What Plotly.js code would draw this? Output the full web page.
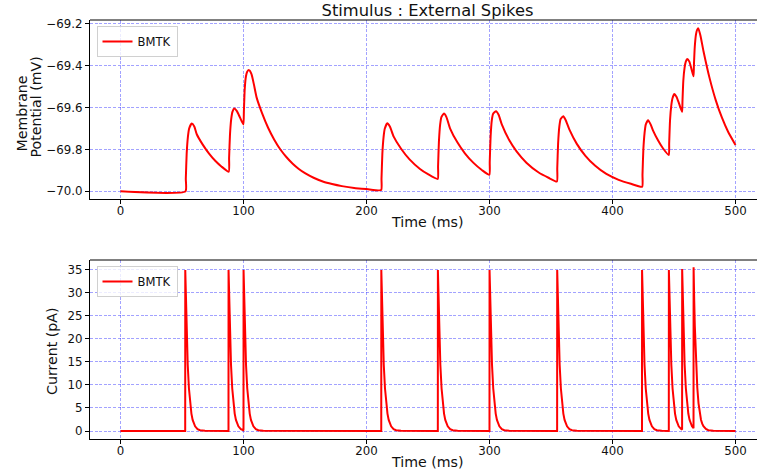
<!DOCTYPE html>
<html>
<head>
<meta charset="utf-8">
<script src="https://cdn.plot.ly/plotly-3.0.1.min.js"></script>
<style>
  html, body { margin: 0; padding: 0; background: #fff; }
  #chart { width: 757px; height: 473px; }
</style>
</head>
<body>
<div id="chart"></div>
<script>
// ---- Data ----
// Membrane potential trace (time in ms, potential in mV)
const voltT = [0, 52.8, 53.1, 53.8, 54.8, 55.8, 57.9, 60, 62, 67, 72, 77, 82, 88,
  88.3, 89, 90, 91, 92.5, 94.5, 97, 99.9,
  100.3, 101, 102, 103, 104.5, 106.5, 108.5, 110.7, 115, 120, 125, 130, 135, 140, 145, 150, 157, 165, 172, 180, 190, 200, 211.9,
  212.2, 212.9, 213.9, 214.9, 216.9, 219, 222, 228, 235, 243.5, 250, 257.9,
  258.2, 258.9, 259.9, 260.9, 263, 265, 268, 274, 280, 287, 294, 299.9,
  300.2, 300.9, 301.9, 302.9, 305.3, 307.5, 310, 316, 322, 330, 340, 348, 354.8,
  355.1, 355.8, 356.8, 357.8, 360, 362, 365, 371, 378, 386, 395, 405, 415, 424.1,
  424.4, 425.1, 426.1, 427.1, 429, 431, 433, 437, 441, 445.8,
  446.1, 446.8, 447.8, 448.8, 450.3, 452, 454, 456.6,
  456.9, 457.6, 458.6, 459.6, 460.8, 462.5, 464, 465.9,
  466.2, 466.9, 467.9, 468.8, 469.8, 471.5, 474, 479, 484, 489, 494, 500];
const voltV = [-70.0, -70.0, -69.94, -69.82, -69.74, -69.70, -69.676, -69.69, -69.727, -69.778, -69.82, -69.854, -69.881, -69.906,
  -69.84, -69.73, -69.655, -69.62, -69.604, -69.615, -69.645, -69.68,
  -69.62, -69.51, -69.45, -69.428, -69.42, -69.44, -69.49, -69.552, -69.625, -69.696, -69.753, -69.80, -69.837, -69.868, -69.893, -69.913, -69.935, -69.954, -69.965, -69.975, -69.984, -69.989, -69.994,
  -69.94, -69.82, -69.74, -69.70, -69.675, -69.69, -69.737, -69.795, -69.847, -69.893, -69.918, -69.941,
  -69.88, -69.76, -69.68, -69.645, -69.628, -69.645, -69.70, -69.767, -69.818, -69.864, -69.899, -69.921,
  -69.86, -69.74, -69.66, -69.63, -69.617, -69.635, -69.68, -69.755, -69.809, -69.863, -69.91, -69.935, -69.953,
  -69.89, -69.77, -69.69, -69.655, -69.641, -69.66, -69.705, -69.773, -69.83, -69.878, -69.917, -69.945, -69.964, -69.978,
  -69.92, -69.80, -69.72, -69.68, -69.66, -69.68, -69.71, -69.756, -69.794, -69.826,
  -69.77, -69.66, -69.59, -69.555, -69.535, -69.548, -69.578, -69.62,
  -69.57, -69.47, -69.41, -69.38, -69.368, -69.38, -69.41, -69.45,
  -69.40, -69.31, -69.25, -69.228, -69.221, -69.255, -69.33, -69.46, -69.565, -69.648, -69.715, -69.778];

// Input current: spike onset times (ms), peak current (pA), current at onset (pA)
const spikeTimes = [52.6, 87.8, 100.0, 212.0, 258.0, 300.0, 355.0, 424.0, 445.8, 456.6, 465.9];
const spikePeaks = [35, 35, 35, 35, 35, 35, 35, 35, 35, 35.2, 35.6];
const onsetCurrent = [0, 0, 0.3, 0, 0, 0, 0, 0, 0, 0.3, 0.6];
// Shape of one current pulse decay (ms after onset, fraction of peak)
const decayOffset = [0, 0.5, 1, 1.5, 2, 3, 4, 5, 6, 7, 8, 10, 12, 16];
const decayFraction = [1, 0.80, 0.64, 0.513, 0.411, 0.264, 0.169, 0.108, 0.069, 0.045, 0.029, 0.012, 0.005, 0.001];
const simEnd = 500;

const xTicks = [0, 100, 200, 300, 400, 500];
const vTicks = [-70.0, -69.8, -69.6, -69.4, -69.2];
const iTicks = [0, 5, 10, 15, 20, 25, 30, 35];

// ---- Build the current trace table from the read values ----
const currT = [0], currI = [0];
for (let i = 0; i < spikeTimes.length; i++) {
  const t0 = spikeTimes[i];
  const next = i + 1 < spikeTimes.length ? spikeTimes[i + 1] : simEnd;
  currT.push(t0); currI.push(onsetCurrent[i]);
  for (let k = 0; k < decayOffset.length; k++) {
    const t = t0 + 0.05 + decayOffset[k];
    if (t >= next) break;
    currT.push(t); currI.push(spikePeaks[i] * decayFraction[k]);
  }
}
currT.push(simEnd); currI.push(0);

// ---- Layout ----
const FONT = '"DejaVu Sans", sans-serif';
const W = 757, H = 473, ML = 90, MT = 20, MB = 34;
const plotH = H - MT - MB;
const py = (pix) => (H - MB - pix) / plotH;      // pixel y -> paper y
const px = (pix) => (pix - ML) / (W - ML);        // pixel x -> paper x

const TICK = 11.8, LAB = 14.2;
const grid = { showgrid: true, gridcolor: 'rgba(60,60,255,0.6)', gridwidth: 0.8, griddash: '3px,1.6px' };
const axisCommon = Object.assign({
  showline: true, linecolor: '#000', linewidth: 1,
  ticks: 'outside', ticklen: 4, tickwidth: 1, tickcolor: '#000',
  tickfont: { family: FONT, size: TICK, color: '#111' },
  zeroline: false
}, grid);

const traces = [
  { x: voltT, y: voltV, type: 'scatter', mode: 'lines', name: 'BMTK',
    line: { color: '#ff0000', width: 2, shape: 'spline', smoothing: 0.5 }, xaxis: 'x', yaxis: 'y', legend: 'legend' },
  { x: currT, y: currI, type: 'scatter', mode: 'lines', name: 'BMTK',
    line: { color: '#ff0000', width: 2 }, xaxis: 'x2', yaxis: 'y2', legend: 'legend2' }
];

const legendCommon = {
  xref: 'paper', yref: 'paper', xanchor: 'left', yanchor: 'top',
  bgcolor: 'rgba(255,255,255,0.8)', bordercolor: '#d0d0d0', borderwidth: 1,
  font: { family: FONT, size: 11.6, color: '#111' }, itemwidth: 30,
  tracegroupgap: 0
};

const annFont = { family: FONT, size: LAB, color: '#111' };
const layout = {
  width: W, height: H,
  margin: { l: ML, r: 0, t: MT, b: MB },
  paper_bgcolor: '#fff', plot_bgcolor: '#fff',
  font: { family: FONT, color: '#111' },
  title: { text: 'Stimulus : External Spikes', xref: 'paper', x: px(427.5), xanchor: 'center',
           yref: 'container', y: 1 - 10.5 / H, yanchor: 'middle',
           font: { family: FONT, size: 16.3, color: '#111' } },
  xaxis: Object.assign({}, axisCommon, { domain: [0, 1], anchor: 'y', range: [-24.8, 517.5],
           tickvals: xTicks, ticklabelstandoff: -3 }),
  yaxis: Object.assign({}, axisCommon, { domain: [py(199.3), 1], anchor: 'x', range: [-70.038, -69.181],
           tickvals: vTicks, tickformat: '.1f' }),
  xaxis2: Object.assign({}, axisCommon, { domain: [0, 1], anchor: 'y2', range: [-24.8, 517.5],
           tickvals: xTicks, ticklabelstandoff: -3 }),
  yaxis2: Object.assign({}, axisCommon, { domain: [0, py(260)], anchor: 'x2', range: [-1.74, 37.17],
           tickvals: iTicks }),
  showlegend: true,
  legend: Object.assign({}, legendCommon, { x: px(96.5), y: py(26) }),
  legend2: Object.assign({}, legendCommon, { x: px(96.5), y: py(266) }),
  shapes: [
    { type: 'line', xref: 'paper', yref: 'paper', x0: 0, x1: 1, y0: 1, y1: 1, line: { color: '#000', width: 1 } },
    { type: 'line', xref: 'paper', yref: 'paper', x0: 0, x1: 1, y0: py(260), y1: py(260), line: { color: '#000', width: 1 } }
  ],
  annotations: [
    { text: 'Membrane', xref: 'paper', yref: 'paper', x: px(21), y: py(113.5),
      xanchor: 'center', yanchor: 'middle', textangle: -90, showarrow: false, font: annFont },
    { text: 'Potential (mV)', xref: 'paper', yref: 'paper', x: px(36), y: py(107.5),
      xanchor: 'center', yanchor: 'middle', textangle: -90, showarrow: false, font: annFont },
    { text: 'Current (pA)', xref: 'paper', yref: 'paper', x: px(52), y: py(351),
      xanchor: 'center', yanchor: 'middle', textangle: -90, showarrow: false, font: annFont },
    { text: 'Time (ms)', xref: 'paper', yref: 'paper', x: px(427), y: py(222),
      xanchor: 'center', yanchor: 'middle', showarrow: false, font: annFont },
    { text: 'Time (ms)', xref: 'paper', yref: 'paper', x: px(427), y: py(462),
      xanchor: 'center', yanchor: 'middle', showarrow: false, font: annFont }
  ]
};

Plotly.newPlot('chart', traces, layout, { displayModeBar: false, staticPlot: true });
</script>
</body>
</html>
